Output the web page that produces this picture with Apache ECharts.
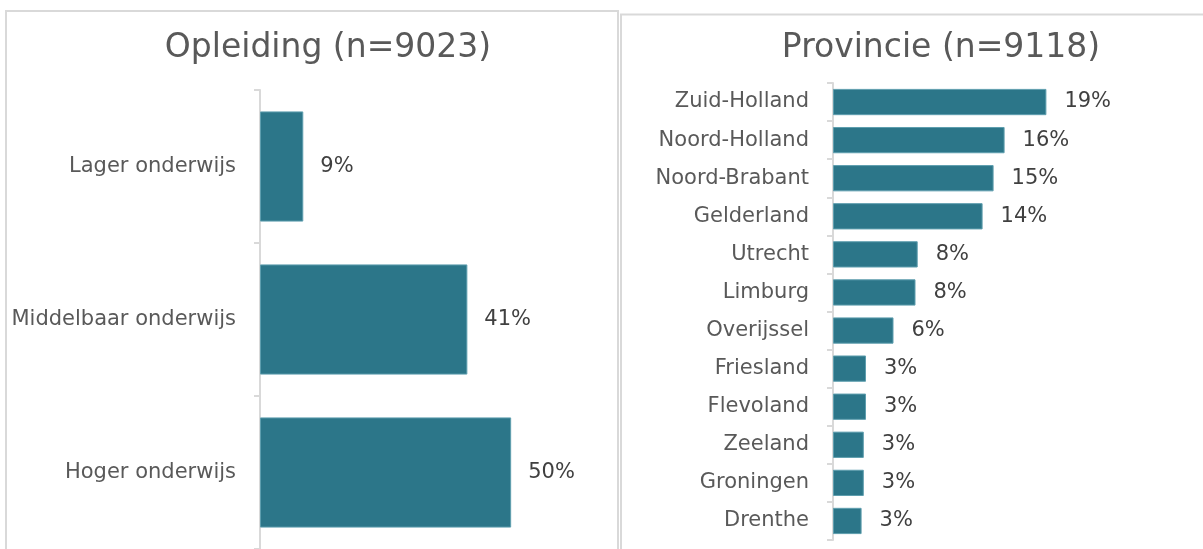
<!DOCTYPE html>
<html>
<head>
<meta charset="utf-8">
<script src="https://cdn.jsdelivr.net/npm/echarts@6/dist/echarts.min.js"></script>
<style>
html,body{margin:0;padding:0;background:#fff;}
#c{width:1203px;height:549px;}
</style>
</head>
<body>
<div id="c"></div>
<script>
// Data
const opleidingTitle = 'Opleiding (n=9023)';
const opleidingCategories = ['Lager onderwijs', 'Middelbaar onderwijs', 'Hoger onderwijs'];
const opleidingValues = [8.6, 41.2, 49.9];

const provincieTitle = 'Provincie (n=9118)';
const provincieCategories = ['Zuid-Holland', 'Noord-Holland', 'Noord-Brabant', 'Gelderland', 'Utrecht', 'Limburg', 'Overijssel', 'Friesland', 'Flevoland', 'Zeeland', 'Groningen', 'Drenthe'];
const provincieValues = [19.4, 15.6, 14.6, 13.6, 7.7, 7.5, 5.5, 3.0, 3.0, 2.8, 2.8, 2.6];

const FONT = '"DejaVu Sans", Verdana, sans-serif';
const BAR = '#2C7689';
const GRID_LINE = '#D9D9D9';

const chart = echarts.init(document.getElementById('c'), null, {renderer: 'canvas'});

function yAxisCfg(idx, cats, fs) {
  return {
    type: 'category', gridIndex: idx, data: cats, inverse: true,
    axisLine: {show: true, lineStyle: {color: GRID_LINE, width: 2}},
    axisTick: {show: true, length: 6, lineStyle: {color: GRID_LINE, width: 2}},
    axisLabel: {color: '#595959', fontSize: fs, fontFamily: FONT, margin: 24, padding: [3, 0, 0, 0]}
  };
}
function xAxisCfg(idx, max) {
  return {type: 'value', gridIndex: idx, min: 0, max: max, show: false, splitLine: {show: false}};
}
function seriesCfg(idx, vals, gap, fs, dist) {
  return {
    type: 'bar', xAxisIndex: idx, yAxisIndex: idx, data: vals,
    barCategoryGap: gap,
    itemStyle: {color: BAR, borderColor: '#5E9EAE', borderWidth: 1},
    label: {show: true, position: 'right', distance: dist, color: '#404040', fontSize: fs, fontFamily: FONT,
      padding: [3, 0, 0, 0], formatter: p => Math.round(p.value) + '%'},
    silent: true, animation: false
  };
}

chart.setOption({
  animation: false,
  backgroundColor: '#fff',
  title: [
    {text: opleidingTitle, left: 323, top: 27, textAlign: 'center',
      textStyle: {color: '#595959', fontSize: 33, fontWeight: 'normal', fontFamily: FONT}},
    {text: provincieTitle, left: 936, top: 27, textAlign: 'center',
      textStyle: {color: '#595959', fontSize: 33, fontWeight: 'normal', fontFamily: FONT}}
  ],
  graphic: [
    {type: 'rect', shape: {x: 6, y: 11, width: 612, height: 560}, style: {fill: 'none', stroke: GRID_LINE, lineWidth: 2}, z: -1},
    {type: 'rect', shape: {x: 621, y: 14.5, width: 620, height: 560}, style: {fill: 'none', stroke: GRID_LINE, lineWidth: 2}, z: -1}
  ],
  grid: [
    {left: 260, top: 90, width: 302, height: 460, containLabel: false},
    {left: 833, top: 83, width: 330, height: 457, containLabel: false}
  ],
  xAxis: [xAxisCfg(0, 60), xAxisCfg(1, 30)],
  yAxis: [yAxisCfg(0, opleidingCategories, 21), yAxisCfg(1, provincieCategories, 21)],
  series: [seriesCfg(0, opleidingValues, '28%', 21, 17), seriesCfg(1, provincieValues, '31%', 21, 18)]
});
</script>
</body>
</html>
